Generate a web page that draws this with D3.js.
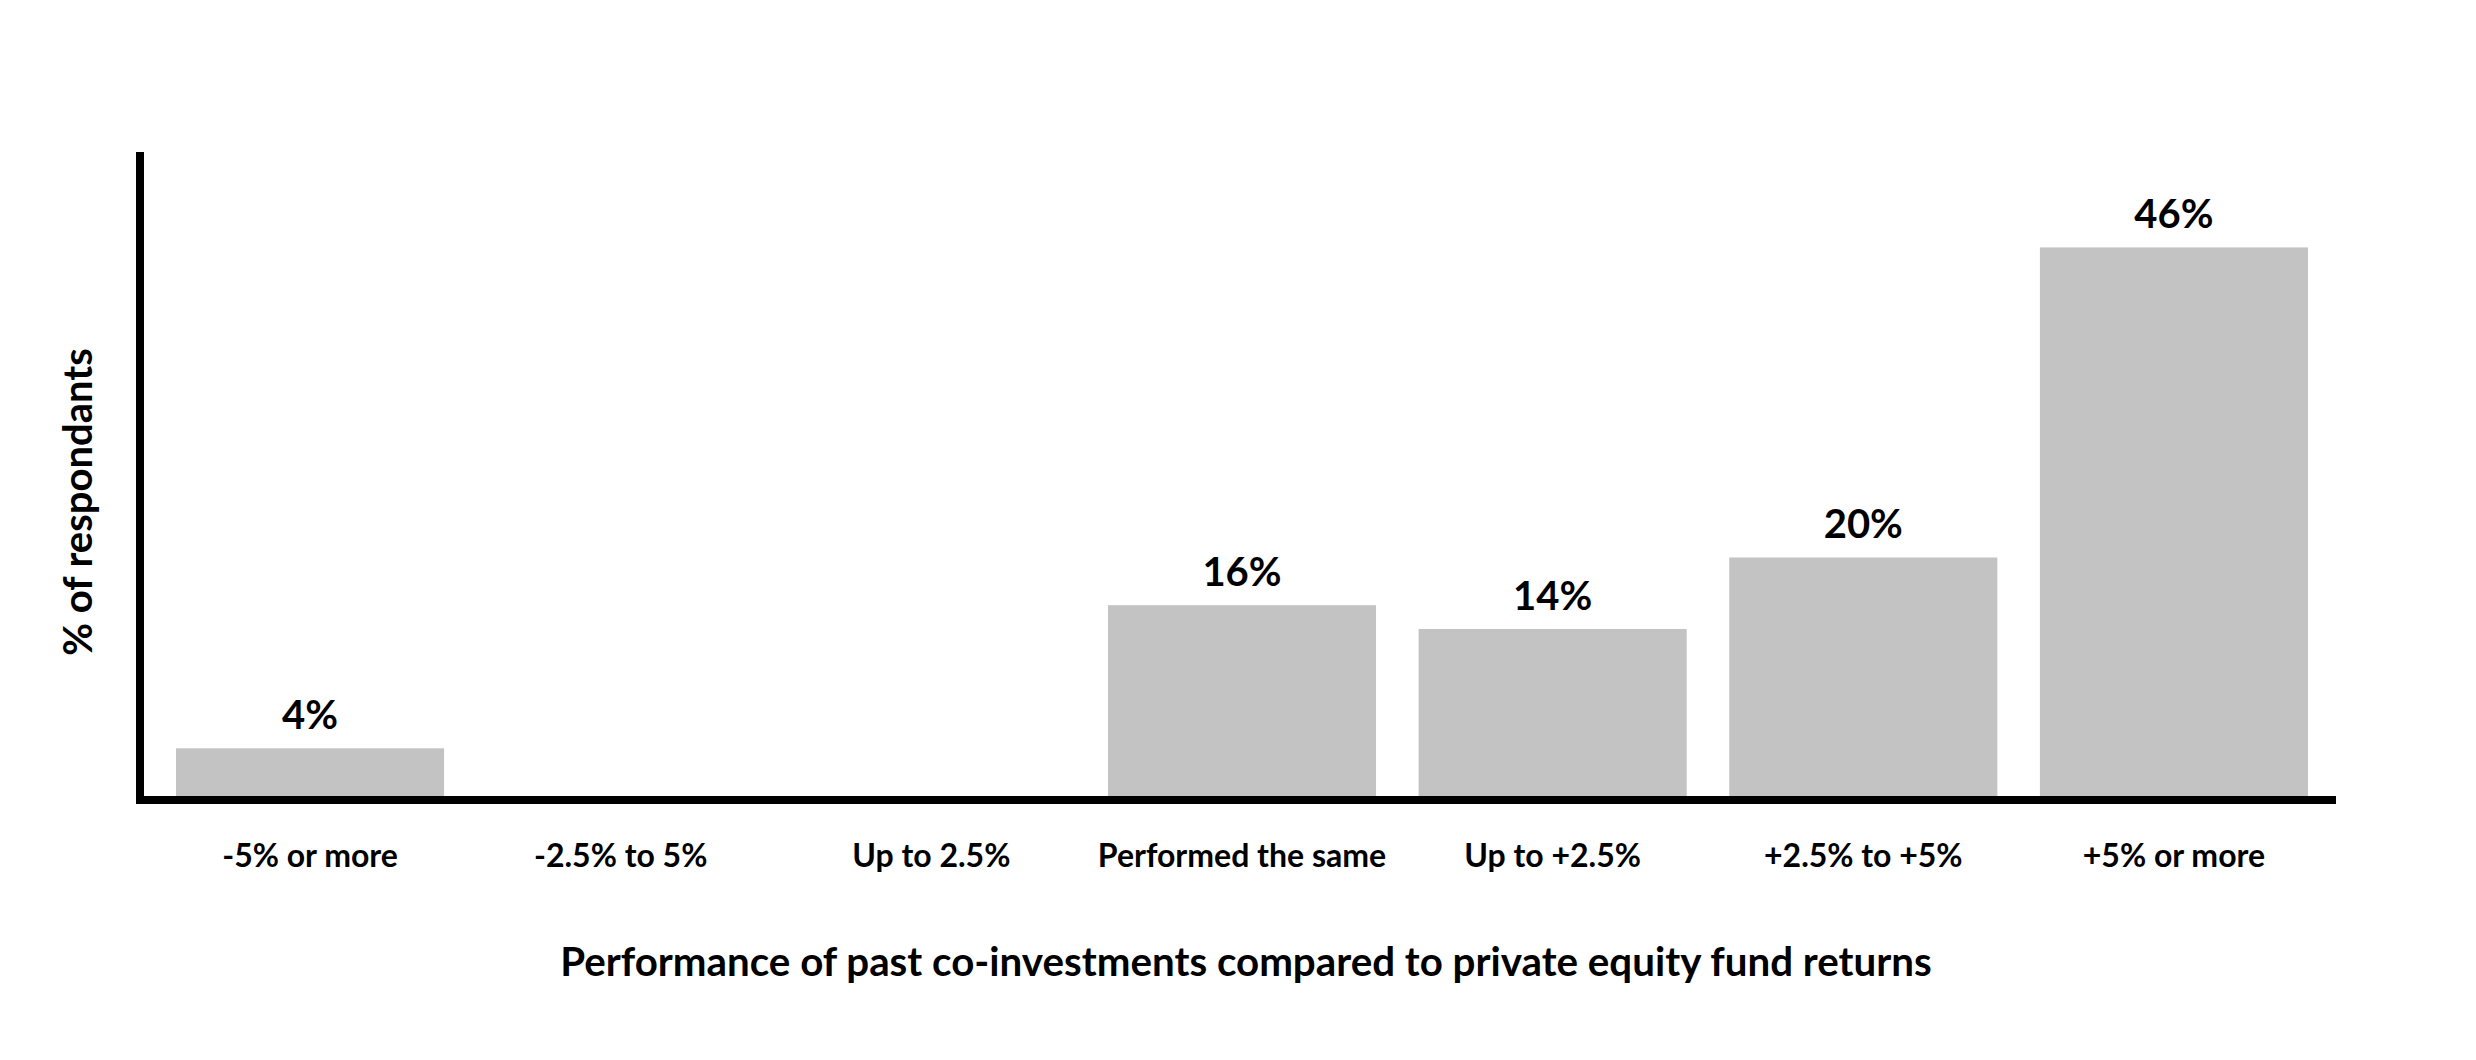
<!DOCTYPE html>
<html>
<head>
<meta charset="utf-8">
<script src="https://cdn.jsdelivr.net/npm/d3@7"></script>
<style>
  body { margin: 0; background: #fff; }
  text { font-family: Lato, "Open Sans", sans-serif; font-weight: 700; fill: #000; }
</style>
</head>
<body>
<svg id="chart" width="2476" height="1060"></svg>
<script>
// categories and values (% of respondants)
var categories = ['-5% or more', '-2.5% to 5%', 'Up to 2.5%', 'Performed the same', 'Up to +2.5%', '+2.5% to +5%', '+5% or more'];
var values = [4, 0, 0, 16, 14, 20, 46];

var BASE_Y = 796;
var TOP_Y = 152;
var AXIS_X = 140;
var AXIS_END = 2336;

var svg = d3.select('#chart');

var x = d3.scaleBand()
  .domain(categories)
  .range([176, 2308])
  .paddingInner(0.137)
  .paddingOuter(0);

var y = d3.scaleLinear()
  .domain([0, 54])
  .range([BASE_Y, TOP_Y]);

var datos = categories.map(function(c, i){ return {cat: c, valor: values[i]}; });

// barras
svg.append('g').selectAll('rect').data(datos).enter().append('rect')
  .attr('x', function(d){ return x(d.cat); })
  .attr('y', function(d){ return y(d.valor); })
  .attr('width', x.bandwidth())
  .attr('height', function(d){ return y(0) - y(d.valor); })
  .attr('fill', '#c3c3c3');

// etiquetas de valor
svg.append('g').selectAll('text').data(datos.filter(function(d){ return d.valor > 0; })).enter().append('text')
  .attr('x', function(d){ return x(d.cat) + x.bandwidth() / 2; })
  .attr('y', function(d){ return y(d.valor) - 19; })
  .attr('text-anchor', 'middle')
  .attr('font-size', 40)
  .text(function(d){ return d.valor + '%'; });

// eje x (solo etiquetas)
var ejeX = svg.append('g')
  .attr('transform', 'translate(0,' + BASE_Y + ')')
  .call(d3.axisBottom(x).tickSize(0).tickPadding(48));
ejeX.select('.domain').remove();
ejeX.selectAll('text')
  .attr('font-size', 32)
  .attr('font-family', 'Lato, sans-serif')
  .attr('font-weight', 700)
  .attr('fill', '#000');

// lineas de ejes
svg.append('line')
  .attr('x1', AXIS_X).attr('x2', AXIS_X)
  .attr('y1', y.range()[1]).attr('y2', BASE_Y + 8)
  .attr('stroke', '#000').attr('stroke-width', 8);

svg.append('line')
  .attr('x1', AXIS_X - 4).attr('x2', AXIS_END)
  .attr('y1', BASE_Y + 4).attr('y2', BASE_Y + 4)
  .attr('stroke', '#000').attr('stroke-width', 8);

// titulos
svg.append('text')
  .attr('transform', 'translate(92,502) rotate(-90)')
  .attr('text-anchor', 'middle')
  .attr('font-size', 40)
  .text('% of respondants');

svg.append('text')
  .attr('x', 1246)
  .attr('y', 976)
  .attr('text-anchor', 'middle')
  .attr('font-size', 40.3)
  .text('Performance of past co-investments compared to private equity fund returns');
</script>
</body>
</html>
